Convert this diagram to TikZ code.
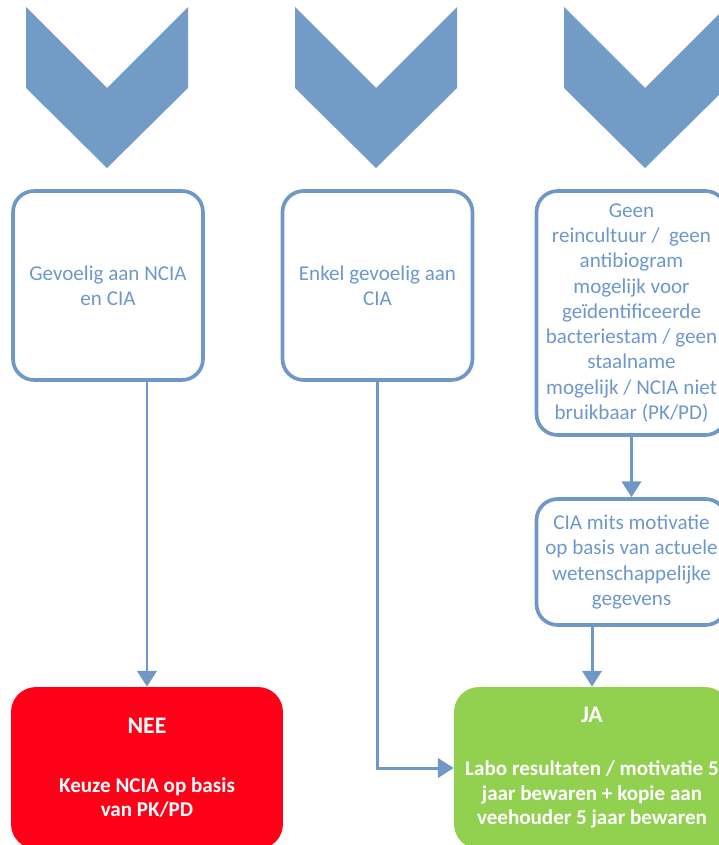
\documentclass[tikz,border=0pt]{standalone}
\usepackage{fontspec}
\setmainfont{Carlito}
\usepackage{tikz}
\usetikzlibrary{arrows.meta}
\definecolor{chevblue}{RGB}{114,155,198}
\definecolor{rimblue}{RGB}{112,152,198}
\definecolor{txtblue}{RGB}{110,152,205}
\definecolor{neered}{RGB}{255,0,24}
\definecolor{jagreen}{RGB}{146,208,80}

\begin{document}
\begin{tikzpicture}[x=0.02cm, y=-0.02cm,
		chevron/.style={fill=chevblue},
		optbox/.style={draw=rimblue, line width=2.1pt, rounded corners=0.42cm, fill=white,
			text=txtblue, align=center, inner sep=0pt, minimum width=3.8cm,
			font=\fontsize{12}{14.4}\selectfont},
		endbox/.style={rounded corners=0.5cm, text=white, align=center, inner sep=0pt,
			minimum height=3.24cm, font=\fontsize{12}{13.6}\selectfont\bfseries},
		link/.style={draw=rimblue, line width=1.7pt, -{Triangle[width=11pt, length=9pt]}}]
			\useasboundingbox (0,0) rectangle (719,845);
			\clip (0,0) rectangle (719,845);
			% chevrons
			\foreach \x in {26, 295, 564}{
				\fill[chevron] (\x,7) -- ++(81,81) -- ++(81,-81) -- ++(0,81) -- ++(-81,80) -- ++(-81,-80) -- cycle;};
			% boxes
			\node[optbox, minimum height=3.78cm] (gevoelig) at (108,285.5) {Gevoelig aan NCIA\\en CIA};
			\node[optbox, minimum height=3.78cm] (enkel) at (377.5,285.5) {Enkel gevoelig aan\\CIA};
			\node[optbox, minimum height=4.88cm] (geen) at (631.5,313) {Geen\\reincultuur /\ \ geen\\antibiogram\\mogelijk voor\\ge\"identificeerde\\bacteriestam / geen\\staalname\\mogelijk / NCIA niet\\bruikbaar (PK/PD)};
			\node[optbox, minimum height=2.52cm] (mits) at (631.5,562) {CIA mits motivatie\\op basis van actuele\\wetenschappelijke\\gegevens};
			\node[endbox, fill=neered, minimum width=5.44cm] (nee) at (147,768) {{\fontsize{13.5}{16}\selectfont NEE}\\[20pt]Keuze NCIA op basis\\van PK/PD};
			\node[endbox, fill=jagreen, minimum width=5.52cm, font=\fontsize{12}{14}\selectfont\bfseries] (ja) at (592,768) {{\fontsize{13.5}{16}\selectfont JA}\\[16pt]Labo resultaten / motivatie 5\\jaar bewaren + kopie aan\\veehouder 5 jaar bewaren};
			% connectors
			\draw[link] (gevoelig.south -| nee.north) -- (nee.north);
			\draw[link] (enkel.south) |- (ja.west);
			\draw[link] (geen.south) -- (mits.north);
			\draw[link] (mits.south -| ja.north) -- (ja.north);
		\end{tikzpicture}
\end{document}
